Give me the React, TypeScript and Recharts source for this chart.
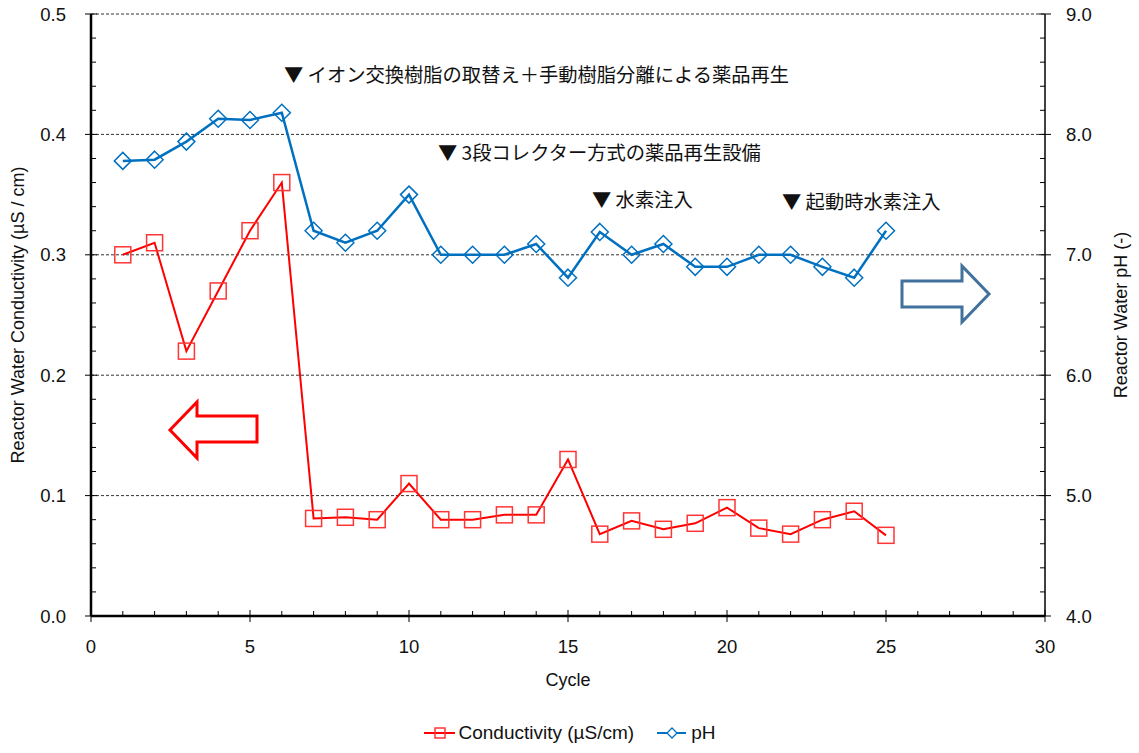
import { ComposedChart, Line, XAxis, YAxis, ReferenceLine, Legend, Label } from "recharts"

const cycles = [1, 2, 3, 4, 5, 6, 7, 8, 9, 10, 11, 12, 13, 14, 15, 16, 17, 18, 19, 20, 21, 22, 23, 24, 25]
const conductivity = [
  0.3, 0.31, 0.22, 0.27, 0.32, 0.36, 0.081, 0.082, 0.08, 0.11, 0.08, 0.08, 0.084, 0.084, 0.13,
  0.068, 0.079, 0.072, 0.077, 0.09, 0.073, 0.068, 0.08, 0.087, 0.067,
]
const ph = [
  7.78, 7.79, 7.94, 8.13, 8.12, 8.18, 7.2, 7.1, 7.2, 7.5, 7.0, 7.0, 7.0, 7.09, 6.81,
  7.19, 7.0, 7.09, 6.9, 6.9, 7.0, 7.0, 6.9, 6.81, 7.2,
]

const xMajor = [0, 5, 10, 15, 20, 25, 30]
const leftMajor = [0, 0.1, 0.2, 0.3, 0.4, 0.5]
const rightMajor = [4, 5, 6, 7, 8, 9]
const gridLines = [0.1, 0.2, 0.3, 0.4, 0.5]

const notes = [
  { text: "▼ イオン交換樹脂の取替え＋手動樹脂分離による薬品再生", x: 284, y: 74 },
  { text: "▼ 3段コレクター方式の薬品再生設備", x: 438, y: 152 },
  { text: "▼ 水素注入", x: 592, y: 199 },
  { text: "▼ 起動時水素注入", x: 782, y: 201 },
]

const RED = "#ff0000"
const BLUE = "#0070c0"
const FONT = "'Liberation Sans', Arial, sans-serif"
const CJK = "'Noto Sans CJK JP', 'Noto Sans', sans-serif"
const TICK_SIZE = 18.5
const TITLE_SIZE = 18

// minor ticks filled between majors
const withMinor = (majors: number[], parts: number) => {
  const out: number[] = []
  majors.forEach((m, i) => {
    out.push(m)
    if (i < majors.length - 1) {
      const step = (majors[i + 1] - m) / parts
      for (let k = 1; k < parts; k++) out.push(+(m + step * k).toFixed(4))
    }
  })
  return out
}

const data = cycles.map((c, i) => ({ cycle: c, cond: conductivity[i], ph: ph[i] }))

const isMajor = (v: number, list: number[]) => list.some((m) => Math.abs(m - v) < 1e-6)

function LeftTick({ x, y, payload }: any) {
  const major = isMajor(payload.value, leftMajor)
  return (
    <g>
      {major ? (
        <>
          <line x1={x - 6} x2={x + 6} y1={y} y2={y} stroke="#000" strokeWidth={1} />
          <text x={x - 25} y={y} textAnchor="end" dominantBaseline="central" fontSize={TICK_SIZE} fontFamily={FONT} fill="#111">
            {payload.value.toFixed(1)}
          </text>
        </>
      ) : (
        <line x1={x} x2={x + 5} y1={y} y2={y} stroke="#000" strokeWidth={1} />
      )}
    </g>
  )
}

function RightTick({ x, y, payload }: any) {
  const major = isMajor(payload.value, rightMajor)
  return (
    <g>
      {major ? (
        <>
          <line x1={x - 6} x2={x + 6} y1={y} y2={y} stroke="#000" strokeWidth={1} />
          <text x={x + 21} y={y} textAnchor="start" dominantBaseline="central" fontSize={TICK_SIZE} fontFamily={FONT} fill="#111">
            {payload.value.toFixed(1)}
          </text>
        </>
      ) : (
        <line x1={x - 5} x2={x} y1={y} y2={y} stroke="#000" strokeWidth={1} />
      )}
    </g>
  )
}

function BottomTick({ x, y, payload }: any) {
  const major = isMajor(payload.value, xMajor)
  return (
    <g>
      {major ? (
        <>
          <line x1={x} x2={x} y1={y - 6} y2={y + 6} stroke="#000" strokeWidth={1} />
          <text x={x} y={y + 30} textAnchor="middle" dominantBaseline="central" fontSize={TICK_SIZE} fontFamily={FONT} fill="#111">
            {payload.value}
          </text>
        </>
      ) : (
        <line x1={x} x2={x} y1={y - 5} y2={y} stroke="#000" strokeWidth={1} />
      )}
    </g>
  )
}

function SquareDot({ cx, cy, index }: any) {
  if (cx == null || cy == null) return <g key={index} />
  return <rect key={index} x={cx - 8} y={cy - 8} width={16} height={16} fill="none" stroke="#ff3535" strokeWidth={1.5} />
}

function DiamondDot({ cx, cy, index }: any) {
  if (cx == null || cy == null) return <g key={index} />
  return (
    <path
      key={index}
      d={`M${cx},${cy - 8.5} L${cx + 8.5},${cy} L${cx},${cy + 8.5} L${cx - 8.5},${cy} Z`}
      fill="none"
      stroke={BLUE}
      strokeWidth={1.5}
    />
  )
}

function LegendBox() {
  return (
    <div
      style={{
        display: "flex",
        justifyContent: "center",
        alignItems: "center",
        height: 40,
        fontFamily: FONT,
        fontSize: 19,
        color: "#111",
      }}
    >
      <svg width={32} height={16} style={{ marginRight: 3 }}>
        <line x1={0} x2={31} y1={8} y2={8} stroke={RED} strokeWidth={2} />
        <rect x={11} y={3} width={10} height={10} fill="none" stroke="#ff3535" strokeWidth={1.5} />
      </svg>
      <span>Conductivity (µS/cm)</span>
      <svg width={30} height={16} style={{ marginLeft: 23, marginRight: 4 }}>
        <line x1={0} x2={29} y1={8} y2={8} stroke={BLUE} strokeWidth={2} />
        <path d="M15,3 L20,8 L15,13 L10,8 Z" fill="#fff" stroke={BLUE} strokeWidth={1.3} />
      </svg>
      <span>pH</span>
    </div>
  )
}

export default function App() {
  return (
    <div style={{ position: "absolute", left: 0, top: 0, width: 1139, height: 753, background: "#fff" }}>
      <ComposedChart width={1139} height={753} data={data} margin={{ top: 14, right: 0, bottom: 0, left: 0 }}>
        {gridLines.map((g) => (
          <ReferenceLine key={g} yAxisId="left" y={g} stroke="#333" strokeDasharray="3 2" strokeWidth={1} />
        ))}
        <XAxis
          dataKey="cycle"
          type="number"
          domain={[0, 30]}
          ticks={withMinor(xMajor, 5)}
          interval={0}
          tickSize={0}
          tickMargin={0}
          height={97}
          tick={<BottomTick />}
          axisLine={{ stroke: "#000", strokeWidth: 2.5 }}
          tickLine={false}
        >
          <Label
            content={({ viewBox }: any) => (
              <text x={viewBox.x + viewBox.width / 2} y={viewBox.y + 64} textAnchor="middle" dominantBaseline="central" fontSize={TITLE_SIZE} fontFamily={FONT} fill="#111">
                Cycle
              </text>
            )}
          />
        </XAxis>
        <YAxis
          yAxisId="left"
          orientation="left"
          domain={[0, 0.5]}
          ticks={withMinor(leftMajor, 5)}
          interval={0}
          width={91}
          tickSize={0}
          tickMargin={0}
          tick={<LeftTick />}
          axisLine={{ stroke: "#000", strokeWidth: 2.5 }}
          tickLine={false}
        >
          <Label
            content={({ viewBox }: any) => {
              const cx = viewBox.x + 18
              const cy = viewBox.y + viewBox.height / 2
              return (
                <text x={cx} y={cy} transform={`rotate(-90 ${cx} ${cy})`} textAnchor="middle" dominantBaseline="central" fontSize={TITLE_SIZE} fontFamily={FONT} fill="#111">
                  Reactor Water Conductivity (µS / cm)
                </text>
              )
            }}
          />
        </YAxis>
        <YAxis
          yAxisId="right"
          orientation="right"
          domain={[4, 9]}
          ticks={withMinor(rightMajor, 5)}
          interval={0}
          width={94}
          tickSize={0}
          tickMargin={0}
          tick={<RightTick />}
          axisLine={{ stroke: "#000", strokeWidth: 1.5 }}
          tickLine={false}
        >
          <Label
            content={({ viewBox }: any) => {
              const cx = viewBox.x + 76
              const cy = viewBox.y + viewBox.height / 2
              return (
                <text x={cx} y={cy} transform={`rotate(-90 ${cx} ${cy})`} textAnchor="middle" dominantBaseline="central" fontSize={TITLE_SIZE} fontFamily={FONT} fill="#111">
                  Reactor Water pH (-)
                </text>
              )
            }}
          />
        </YAxis>
        <Legend verticalAlign="bottom" height={40} content={() => <LegendBox />} />
        <Line
          yAxisId="left"
          dataKey="cond"
          name="Conductivity (µS/cm)"
          stroke={RED}
          strokeWidth={2}
          dot={<SquareDot />}
          activeDot={false}
          isAnimationActive={false}
        />
        <Line
          yAxisId="right"
          dataKey="ph"
          name="pH"
          stroke={BLUE}
          strokeWidth={2.5}
          dot={<DiamondDot />}
          activeDot={false}
          isAnimationActive={false}
        />
      </ComposedChart>

      {/* annotations and direction arrows */}
      <svg width={1139} height={753} style={{ position: "absolute", left: 0, top: 0, pointerEvents: "none" }}>
        {notes.map((n) => (
          <text key={n.text} x={n.x} y={n.y} dominantBaseline="central" fontSize={19.3} fontFamily={CJK} fill="#111">
            {n.text}
          </text>
        ))}
        <polygon
          points="902,281 962,281 962,266 989,294 962,322 962,307 902,307"
          fill="#fff"
          stroke="#41719c"
          strokeWidth={3}
          strokeLinejoin="miter"
        />
        <polygon
          points="257,416 197,416 197,402 170,430 197,458 197,442 257,442"
          fill="#fff"
          stroke={RED}
          strokeWidth={3}
          strokeLinejoin="miter"
        />
      </svg>
    </div>
  )
}
